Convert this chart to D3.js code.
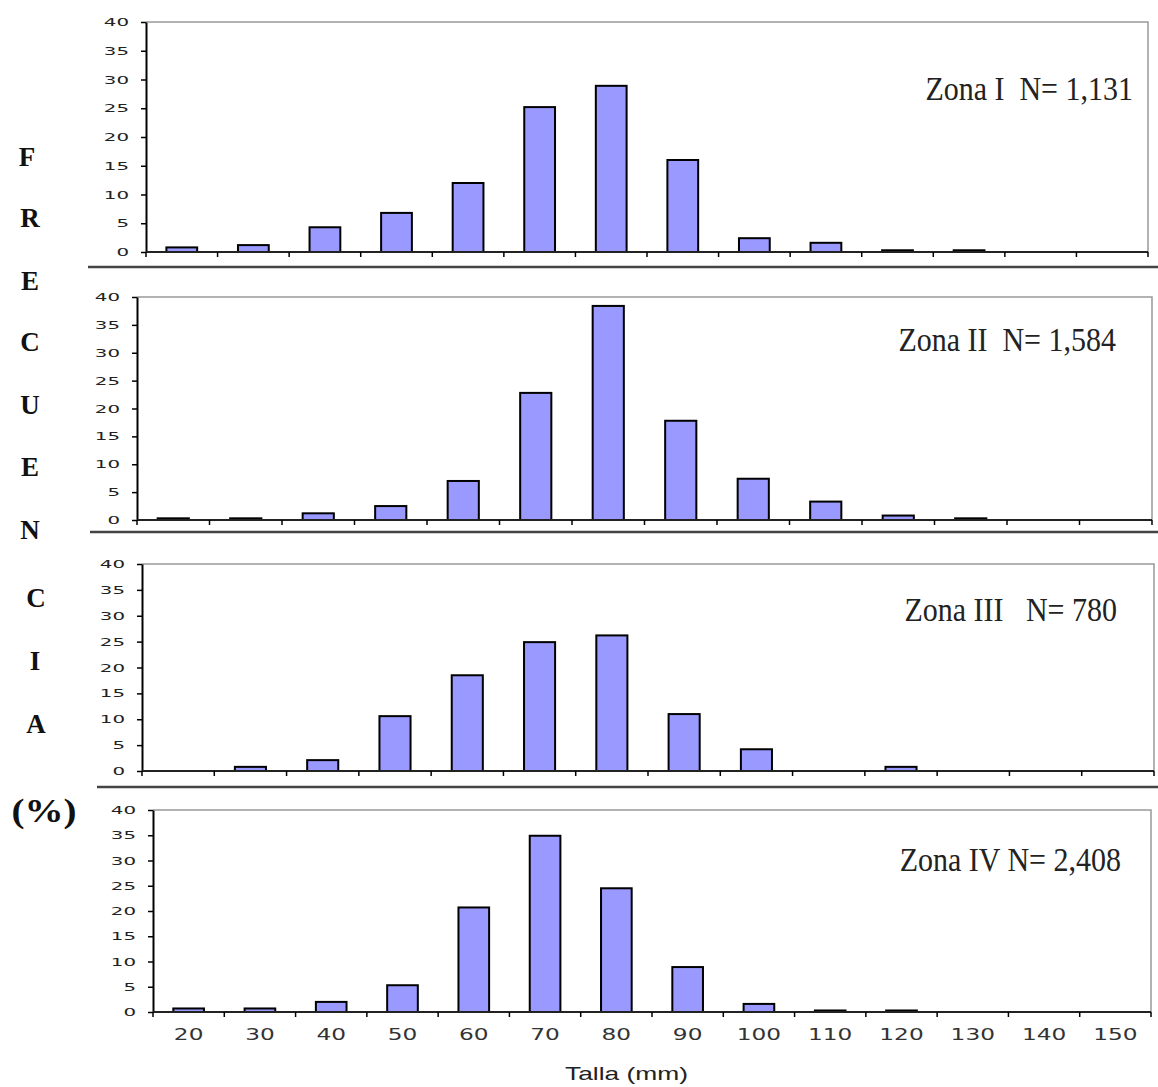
<!DOCTYPE html>
<html>
<head>
<meta charset="utf-8">
<script src="https://cdn.jsdelivr.net/npm/d3@7"></script>
<style>
  body { margin: 0; background: #fff; }
  svg { display: block; }
</style>
</head>
<body>
<div id="chart"></div>
<script>
// Size classes (mm) and frequency (%) per zone
const categories = ["20", "30", "40", "50", "60", "70", "80", "90", "100", "110", "120", "130", "140", "150"];
const zona1 = [0.8, 1.2, 4.3, 6.8, 12.0, 25.2, 28.9, 16.0, 2.4, 1.6, 0.3, 0.3, 0, 0];
const zona2 = [0.3, 0.3, 1.2, 2.5, 7.0, 22.8, 38.4, 17.8, 7.4, 3.3, 0.8, 0.3, 0, 0];
const zona3 = [0, 0.8, 2.1, 10.6, 18.5, 24.9, 26.2, 11.0, 4.2, 0, 0.8, 0, 0, 0];
const zona4 = [0.7, 0.7, 2.0, 5.3, 20.7, 34.9, 24.5, 8.9, 1.6, 0.3, 0.3, 0, 0, 0];
const zoneLabels = ["Zona I  N= 1,131", "Zona II  N= 1,584", "Zona III   N= 780", "Zona IV N= 2,408"];
const yTicks = [0, 5, 10, 15, 20, 25, 30, 35, 40];
const sideLetters = ["F", "R", "E", "C", "U", "E", "N", "C", "I", "A"];

const width = 1158, height = 1087;

const svg = d3.select("#chart").append("svg")
  .attr("width", width)
  .attr("height", height);

// panel frames (left, right, top, baseline) and label placement
const panels = [
  { values: zona1, left: 146, right: 1148, top: 22, bottom: 252, lx: 1133, ly: 100 },
  { values: zona2, left: 137, right: 1152, top: 297, bottom: 520, lx: 1116, ly: 351 },
  { values: zona3, left: 142, right: 1154, top: 564, bottom: 771, lx: 1117, ly: 621 },
  { values: zona4, left: 153, right: 1151, top: 810, bottom: 1012, lx: 1121, ly: 871 }
];

const separators = [
  { y: 267, x0: 88 },
  { y: 532, x0: 90 },
  { y: 787, x0: 97 }
];

svg.selectAll(".sep")
  .data(separators)
  .enter()
  .append("line")
  .attr("x1", d => d.x0)
  .attr("x2", width)
  .attr("y1", d => d.y)
  .attr("y2", d => d.y)
  .attr("stroke", "#444")
  .attr("stroke-width", 2.5);

panels.forEach((p, i) => {
  const g = svg.append("g");

  const x = d3.scaleBand()
    .domain(categories)
    .range([p.left, p.right])
    .padding(0);

  const y = d3.scaleLinear()
    .domain([0, 40])
    .range([p.bottom, p.top]);

  // gray frame on top and right
  g.append("path")
    .attr("d", `M${p.left},${p.top}H${p.right}V${p.bottom}`)
    .attr("fill", "none")
    .attr("stroke", "#999")
    .attr("stroke-width", 1.5);

  // bars
  const barW = x.bandwidth() * 0.43;
  g.selectAll(".bar")
    .data(p.values.map((v, j) => ({ cat: categories[j], v })).filter(d => d.v > 0))
    .enter()
    .append("rect")
    .attr("x", d => x(d.cat) + (x.bandwidth() - barW) / 2)
    .attr("y", d => y(d.v))
    .attr("width", barW)
    .attr("height", d => y(0) - y(d.v))
    .attr("fill", "#9999ff")
    .attr("stroke", "#000")
    .attr("stroke-width", 2);

  // y axis
  const sy = 1.8;
  const yAxis = g.append("g")
    .attr("transform", `translate(${p.left},0)`)
    .call(d3.axisLeft(y).tickValues(yTicks).tickSize(5).tickSizeOuter(0));
  yAxis.select(".domain").attr("stroke", "#000").attr("stroke-width", 2);
  yAxis.selectAll(".tick line").attr("stroke", "#000").attr("stroke-width", 1.5);
  yAxis.selectAll(".tick text")
    .attr("x", -17 / sy)
    .attr("transform", `scale(${sy},1)`)
    .attr("font-family", "DejaVu Sans")
    .attr("font-size", 11)
    .attr("fill", "#222");

  // x axis: ticks at class boundaries
  const bounds = categories.map(c => x(c)).concat([p.right]);
  g.append("line")
    .attr("x1", p.left).attr("x2", p.right)
    .attr("y1", p.bottom).attr("y2", p.bottom)
    .attr("stroke", "#222").attr("stroke-width", 2);
  g.selectAll(".xtick")
    .data(bounds)
    .enter()
    .append("line")
    .attr("x1", d => d).attr("x2", d => d)
    .attr("y1", p.bottom).attr("y2", p.bottom + 5)
    .attr("stroke", "#000").attr("stroke-width", 1.5);

  if (i === panels.length - 1) {
    const sx = 1.55;
    g.selectAll(".xlab")
      .data(categories)
      .enter()
      .append("text")
      .attr("transform", d => `translate(${x(d) + x.bandwidth() / 2},${p.bottom + 28}) scale(${sx},1)`)
      .attr("text-anchor", "middle")
      .attr("font-family", "DejaVu Sans")
      .attr("font-size", 15)
      .attr("fill", "#333")
      .text(d => d);
  }

  // zone label (Times-like, slightly tall)
  g.append("text")
    .attr("transform", `translate(${p.lx},${p.ly}) scale(1,1.15)`)
    .attr("text-anchor", "end")
    .attr("font-family", "Liberation Serif")
    .attr("font-size", 30)
    .attr("fill", "#222")
    .style("white-space", "pre")
    .text(zoneLabels[i]);
});

// x axis title
svg.append("text")
  .attr("x", 565)
  .attr("y", 1080)
  .attr("font-family", "Liberation Sans")
  .attr("font-size", 19)
  .attr("textLength", 123)
  .attr("lengthAdjust", "spacingAndGlyphs")
  .attr("fill", "#222")
  .text("Talla (mm)");

// vertical side title, one letter per line
const letterX = [27, 30, 30, 30, 30, 30, 30, 36, 35, 36];
const letterY = [166, 227, 290, 351, 414, 476, 539, 607, 670, 733];
svg.selectAll(".side")
  .data(sideLetters)
  .enter()
  .append("text")
  .attr("x", (d, i) => letterX[i])
  .attr("y", (d, i) => letterY[i])
  .attr("text-anchor", "middle")
  .attr("font-family", "Liberation Serif")
  .attr("font-weight", "bold")
  .attr("font-size", 27)
  .attr("fill", "#111")
  .text(d => d);

svg.append("text")
  .attr("x", 44)
  .attr("y", 822)
  .attr("text-anchor", "middle")
  .attr("font-family", "Liberation Serif")
  .attr("font-weight", "bold")
  .attr("font-size", 33)
  .attr("textLength", 65)
  .attr("lengthAdjust", "spacingAndGlyphs")
  .attr("fill", "#111")
  .text("(%)");
</script>
</body>
</html>
